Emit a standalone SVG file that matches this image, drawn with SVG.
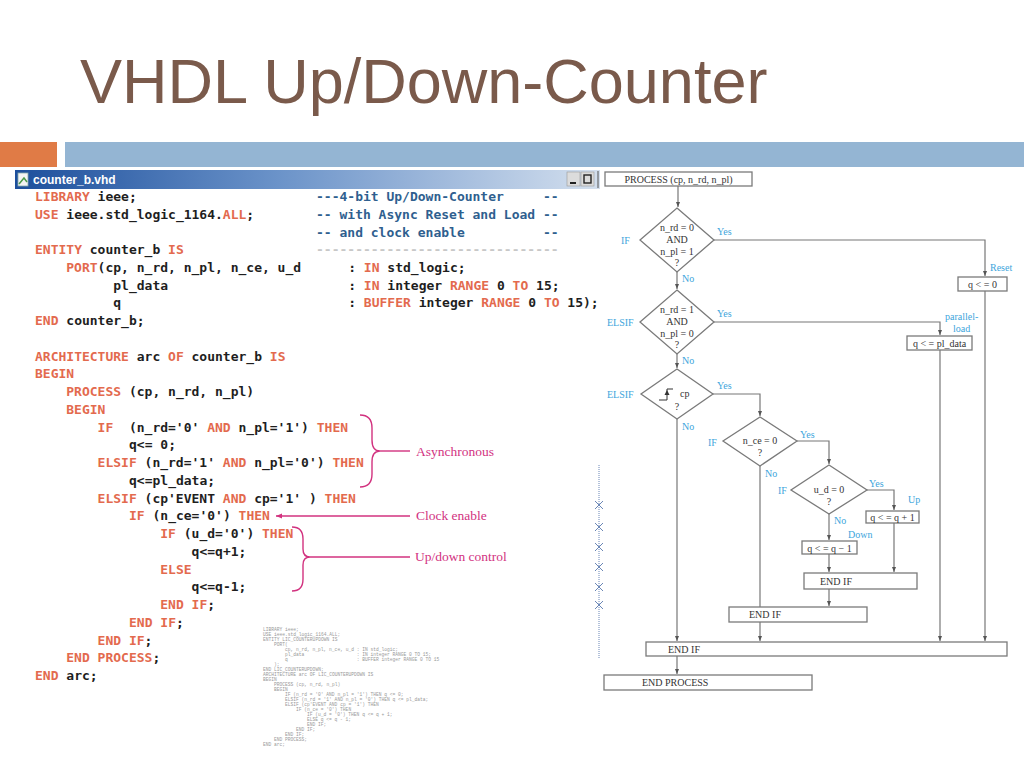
<svg xmlns="http://www.w3.org/2000/svg" width="1024" height="767" viewBox="0 0 1024 767">
<style>
.code{font-family:"DejaVu Sans Mono","Liberation Mono",monospace;font-weight:bold;font-size:13px;fill:#1e1e1e;white-space:pre}
.k{fill:#e36a4e}
.cm{fill:#2f5f8f}
.ann{font-family:"Liberation Serif",serif;font-size:13.5px;fill:#d2327f}
.br{fill:none;stroke:#d2327f;stroke-width:1.4}
.fc{font-family:"Liberation Serif",serif;font-size:10px;fill:#333}
.lb{font-family:"Liberation Serif",serif;font-size:10px;fill:#3da5dc}
.bx{fill:#fff;stroke:#7a7a7a;stroke-width:1.3}
.ln{fill:none;stroke:#777;stroke-width:1.2}
.sm{font-family:"Liberation Mono",monospace;font-size:4.6px;fill:#999;white-space:pre}
</style>
<defs>
<marker id="ah" viewBox="0 0 10 10" refX="10" refY="5" markerWidth="5" markerHeight="5" orient="auto" markerUnits="userSpaceOnUse"><path d="M0,1 L10,5 L0,9 z" fill="#555"/></marker>
<marker id="am" viewBox="0 0 10 10" refX="10" refY="5" markerWidth="7" markerHeight="6" orient="auto" markerUnits="userSpaceOnUse"><path d="M0,1 L10,5 L0,9 z" fill="#d2327f"/></marker>
<linearGradient id="tb" x1="0" y1="0" x2="1" y2="0"><stop offset="0" stop-color="#1d4f9c"/><stop offset="0.45" stop-color="#6b93c9"/><stop offset="1" stop-color="#d3dfee"/></linearGradient>
</defs>
<rect width="1024" height="767" fill="#fff"/>
<text x="80" y="103" font-family="Liberation Sans,Arial,sans-serif" font-size="63" fill="#7a5a4b">VHDL Up/Down-Counter</text>
<rect x="0" y="142" width="57" height="25" fill="#e07b46"/>
<rect x="65" y="142" width="959" height="25" fill="#94b5d3"/>

<g id="code-window">
<rect x="15" y="170" width="585" height="19" fill="url(#tb)"/>
<rect x="18" y="173" width="10" height="13" fill="#f4f4f4" stroke="#8aa" stroke-width="0.8"/>
<path d="M19,184 L24,178 L27,182" fill="none" stroke="#4a9a4a" stroke-width="1.5"/>
<text x="33" y="184" font-family="Liberation Sans,Arial,sans-serif" font-weight="bold" font-size="12" fill="#fff">counter_b.vhd</text>
<rect x="567" y="172" width="13" height="14" fill="#dcdcdc" stroke="#999" stroke-width="0.6"/>
<rect x="570" y="182" width="6" height="2" fill="#222"/>
<rect x="581" y="172" width="13" height="14" fill="#dcdcdc" stroke="#999" stroke-width="0.6"/>
<rect x="584" y="175" width="7" height="8" fill="none" stroke="#222" stroke-width="1.4"/>
<line x1="598" y1="171" x2="598" y2="188" stroke="#555" stroke-width="1"/>
</g>

<g id="code" class="code">
<text xml:space="preserve" x="35" y="201"><tspan class="k">LIBRARY</tspan> ieee;</text>
<text xml:space="preserve" x="316" y="201" class="cm">---4-bit Up/Down-Counter     --</text>
<text xml:space="preserve" x="35" y="218.7"><tspan class="k">USE</tspan> ieee.std_logic_1164.<tspan class="k">ALL</tspan>;</text>
<text xml:space="preserve" x="316" y="218.7" class="cm">-- with Async Reset and Load --</text>
<text xml:space="preserve" x="316" y="236.5" class="cm">-- and clock enable          --</text>
<text xml:space="preserve" x="316" y="254.2" style="fill:#c8c8c8">-------------------------------</text>
<text xml:space="preserve" x="35" y="254.2"><tspan class="k">ENTITY</tspan> counter_b <tspan class="k">IS</tspan></text>
<text xml:space="preserve" x="66.3" y="272"><tspan class="k">PORT</tspan>(cp, n_rd, n_pl, n_ce, u_d</text>
<text xml:space="preserve" x="348.2" y="272">: <tspan class="k">IN</tspan> std_logic;</text>
<text xml:space="preserve" x="113.3" y="289.7">pl_data</text>
<text xml:space="preserve" x="348.2" y="289.7">: <tspan class="k">IN</tspan> integer <tspan class="k">RANGE</tspan> 0 <tspan class="k">TO</tspan> 15;</text>
<text xml:space="preserve" x="113.3" y="307.4">q</text>
<text xml:space="preserve" x="348.2" y="307.4">: <tspan class="k">BUFFER</tspan> integer <tspan class="k">RANGE</tspan> 0 <tspan class="k">TO</tspan> 15);</text>
<text xml:space="preserve" x="35" y="325.2"><tspan class="k">END</tspan> counter_b;</text>
<text xml:space="preserve" x="35" y="360.7"><tspan class="k">ARCHITECTURE</tspan> arc <tspan class="k">OF</tspan> counter_b <tspan class="k">IS</tspan></text>
<text xml:space="preserve" x="35" y="378.4"><tspan class="k">BEGIN</tspan></text>
<text xml:space="preserve" x="66.3" y="396.1"><tspan class="k">PROCESS</tspan> (cp, n_rd, n_pl)</text>
<text xml:space="preserve" x="66.3" y="413.9"><tspan class="k">BEGIN</tspan></text>
<text xml:space="preserve" x="97.6" y="431.6"><tspan class="k">IF</tspan>  (n_rd='0' <tspan class="k">AND</tspan> n_pl='1') <tspan class="k">THEN</tspan></text>
<text xml:space="preserve" x="129" y="449.3">q&lt;= 0;</text>
<text xml:space="preserve" x="97.6" y="467.1"><tspan class="k">ELSIF</tspan> (n_rd='1' <tspan class="k">AND</tspan> n_pl='0') <tspan class="k">THEN</tspan></text>
<text xml:space="preserve" x="129" y="484.8">q&lt;=pl_data;</text>
<text xml:space="preserve" x="97.6" y="502.5"><tspan class="k">ELSIF</tspan> (cp'EVENT <tspan class="k">AND</tspan> cp='1' ) <tspan class="k">THEN</tspan></text>
<text xml:space="preserve" x="129" y="520.3"><tspan class="k">IF</tspan> (n_ce='0') <tspan class="k">THEN</tspan></text>
<text xml:space="preserve" x="160.3" y="538"><tspan class="k">IF</tspan> (u_d='0') <tspan class="k">THEN</tspan></text>
<text xml:space="preserve" x="191.6" y="555.8">q&lt;=q+1;</text>
<text xml:space="preserve" x="160.3" y="573.5"><tspan class="k">ELSE</tspan></text>
<text xml:space="preserve" x="191.6" y="591.3">q&lt;=q-1;</text>
<text xml:space="preserve" x="160.3" y="609"><tspan class="k">END IF</tspan>;</text>
<text xml:space="preserve" x="129" y="626.8"><tspan class="k">END IF</tspan>;</text>
<text xml:space="preserve" x="97.6" y="644.5"><tspan class="k">END IF</tspan>;</text>
<text xml:space="preserve" x="66.3" y="662.2"><tspan class="k">END PROCESS</tspan>;</text>
<text xml:space="preserve" x="35" y="680"><tspan class="k">END</tspan> arc;</text>
</g>

<g id="annotations">
<path class="br" d="M360,415 Q372,415 372,428 L372,440 Q372,451 380,451 Q372,451 372,462 L372,474 Q372,487 360,487"/>
<line class="br" x1="380" y1="451" x2="410" y2="451"/>
<text class="ann" x="416" y="456">Asynchronous</text>
<line class="br" x1="410" y1="516" x2="276" y2="516" marker-end="url(#am)"/>
<text class="ann" x="416" y="520">Clock enable</text>
<path class="br" d="M292,527 Q303,527 303,539 L303,549 Q303,557 310,557 Q303,557 303,565 L303,579 Q303,591 292,591"/>
<line class="br" x1="310" y1="557" x2="410" y2="557"/>
<text class="ann" x="415" y="561">Up/down control</text>
</g>

<g id="small-code" class="sm">
<text xml:space="preserve" x="263" y="631">LIBRARY ieee;</text>
<text xml:space="preserve" x="263" y="636">USE ieee.std_logic_1164.ALL;</text>
<text xml:space="preserve" x="263" y="641">ENTITY LIC_COUNTERUPDOWN IS</text>
<text xml:space="preserve" x="274" y="646">PORT(</text>
<text xml:space="preserve" x="285" y="651">cp, n_rd, n_pl, n_ce, u_d : IN std_logic;</text>
<text xml:space="preserve" x="285" y="656">pl_data                   : IN integer RANGE 0 TO 15;</text>
<text xml:space="preserve" x="285" y="661">q                         : BUFFER integer RANGE 0 TO 15</text>
<text xml:space="preserve" x="274" y="666">);</text>
<text xml:space="preserve" x="263" y="671">END LIC_COUNTERUPDOWN;</text>
<text xml:space="preserve" x="263" y="676">ARCHITECTURE arc OF LIC_COUNTERUPDOWN IS</text>
<text xml:space="preserve" x="263" y="681">BEGIN</text>
<text xml:space="preserve" x="274" y="686">PROCESS (cp, n_rd, n_pl)</text>
<text xml:space="preserve" x="274" y="691">BEGIN</text>
<text xml:space="preserve" x="285" y="696">IF (n_rd = '0' AND n_pl = '1') THEN q &lt;= 0;</text>
<text xml:space="preserve" x="285" y="701">ELSIF (n_rd = '1' AND n_pl = '0') THEN q &lt;= pl_data;</text>
<text xml:space="preserve" x="285" y="706">ELSIF (cp'EVENT AND cp = '1') THEN</text>
<text xml:space="preserve" x="296" y="711">IF (n_ce = '0') THEN</text>
<text xml:space="preserve" x="307" y="716">IF (u_d = '0') THEN q &lt;= q + 1;</text>
<text xml:space="preserve" x="307" y="721">ELSE q &lt;= q - 1;</text>
<text xml:space="preserve" x="307" y="726">END IF;</text>
<text xml:space="preserve" x="296" y="731">END IF;</text>
<text xml:space="preserve" x="285" y="736">END IF;</text>
<text xml:space="preserve" x="274" y="741">END PROCESS;</text>
<text xml:space="preserve" x="263" y="746">END arc;</text>
</g>

<g id="left-edge" fill="none" stroke="#6a86b6" stroke-width="1">
<line x1="599" y1="465" x2="599" y2="658" stroke-dasharray="1,1"/>
<path d="M595,501 L603,509 M603,501 L595,509 M595,523 L603,531 M603,523 L595,531 M595,543 L603,551 M603,543 L595,551 M595,563 L603,571 M603,563 L595,571 M595,583 L603,591 M603,583 L595,591 M595,601 L603,609 M603,601 L595,609"/>
</g>

<g id="connectors">
<path class="ln" d="M678,186 V207" marker-end="url(#ah)"/>
<path class="ln" d="M714,240 H985 V276" marker-end="url(#ah)"/>
<path class="ln" d="M677,272 V289" marker-end="url(#ah)"/>
<path class="ln" d="M714,322 H940 V335" marker-end="url(#ah)"/>
<path class="ln" d="M677,354 V368" marker-end="url(#ah)"/>
<path class="ln" d="M713,394 H760 V416" marker-end="url(#ah)"/>
<path class="ln" d="M677,419 V641" marker-end="url(#ah)"/>
<path class="ln" d="M797,441 H829 V464" marker-end="url(#ah)"/>
<path class="ln" d="M760,466 V607"/>
<path class="ln" d="M867,490 H894 V510" marker-end="url(#ah)"/>
<path class="ln" d="M829,514 V540" marker-end="url(#ah)"/>
<path class="ln" d="M829,554 V572" marker-end="url(#ah)"/>
<path class="ln" d="M894,523 V572" marker-end="url(#ah)"/>
<path class="ln" d="M829,589 V606" marker-end="url(#ah)"/>
<path class="ln" d="M760,622 V641" marker-end="url(#ah)"/>
<path class="ln" d="M940,350 V641" marker-end="url(#ah)"/>
<path class="ln" d="M985,291 V641" marker-end="url(#ah)"/>
<path class="ln" d="M677,656 V674" marker-end="url(#ah)"/>
</g>

<g id="labels" class="lb">
<text x="621" y="244">IF</text>
<text x="717" y="235">Yes</text>
<text x="990" y="271">Reset</text>
<text x="682" y="282">No</text>
<text x="607" y="326">ELSIF</text>
<text x="717" y="317">Yes</text>
<text x="945" y="320">parallel-</text>
<text x="953" y="332">load</text>
<text x="682" y="364">No</text>
<text x="607" y="398">ELSIF</text>
<text x="717" y="389">Yes</text>
<text x="682" y="430">No</text>
<text x="708" y="446">IF</text>
<text x="800" y="438">Yes</text>
<text x="765" y="477">No</text>
<text x="778" y="494">IF</text>
<text x="869" y="487">Yes</text>
<text x="908" y="503">Up</text>
<text x="834" y="524">No</text>
<text x="848" y="538">Down</text>
</g>

<g id="n-process">
<rect class="bx" x="605" y="172" width="147" height="14"/>
<text class="fc" x="678.5" y="183" text-anchor="middle">PROCESS (cp, n_rd, n_pl)</text>
</g>
<g id="n-if1">
<polygon class="bx" points="677,208 714,240 677,272 640,240"/>
<g class="fc" text-anchor="middle"><text x="677" y="231">n_rd = 0</text><text x="677" y="243">AND</text><text x="677" y="255">n_pl = 1</text><text x="677" y="266">?</text></g>
</g>
<g id="n-reset">
<rect class="bx" x="958" y="277" width="49" height="14"/>
<text class="fc" x="982.5" y="288" text-anchor="middle">q &lt; = 0</text>
</g>
<g id="n-if2">
<polygon class="bx" points="677,290 714,322 677,354 640,322"/>
<g class="fc" text-anchor="middle"><text x="677" y="313">n_rd = 1</text><text x="677" y="325">AND</text><text x="677" y="337">n_pl = 0</text><text x="677" y="348">?</text></g>
</g>
<g id="n-load">
<rect class="bx" x="907" y="336" width="65" height="14"/>
<text class="fc" x="939.5" y="347" text-anchor="middle">q &lt; = pl_data</text>
</g>
<g id="n-clk">
<polygon class="bx" points="677,369 713,394 677,419 641,394"/>
<path d="M659,400 H667 V389 H673" fill="none" stroke="#333" stroke-width="1"/>
<path d="M664.5,395 L667,390 L669.5,395 z" fill="#333"/>
<text class="fc" x="680" y="397">cp</text>
<text class="fc" x="677" y="410" text-anchor="middle">?</text>
</g>
<g id="n-ce">
<polygon class="bx" points="760,417 797,441 760,466 723,441"/>
<g class="fc" text-anchor="middle"><text x="760" y="444">n_ce = 0</text><text x="760" y="456">?</text></g>
</g>
<g id="n-ud">
<polygon class="bx" points="829,465 867,490 829,514 791,490"/>
<g class="fc" text-anchor="middle"><text x="829" y="493">u_d = 0</text><text x="829" y="505">?</text></g>
</g>
<g id="n-up">
<rect class="bx" x="866" y="511" width="53" height="12"/>
<text class="fc" x="892.5" y="521" text-anchor="middle">q &lt; = q + 1</text>
</g>
<g id="n-down">
<rect class="bx" x="802" y="541" width="55" height="13"/>
<text class="fc" x="829.5" y="551.5" text-anchor="middle">q &lt; = q − 1</text>
</g>
<g id="n-endif1">
<rect class="bx" x="804" y="573" width="113" height="16"/>
<text class="fc" x="820" y="585">END IF</text>
</g>
<g id="n-endif2">
<rect class="bx" x="729" y="607" width="138" height="15"/>
<text class="fc" x="749" y="618">END IF</text>
</g>
<g id="n-endif3">
<rect class="bx" x="646" y="642" width="361" height="14"/>
<text class="fc" x="668" y="653">END IF</text>
</g>
<g id="n-endprocess">
<rect class="bx" x="604" y="675" width="208" height="15"/>
<text class="fc" x="642" y="686">END PROCESS</text>
</g>
</svg>
